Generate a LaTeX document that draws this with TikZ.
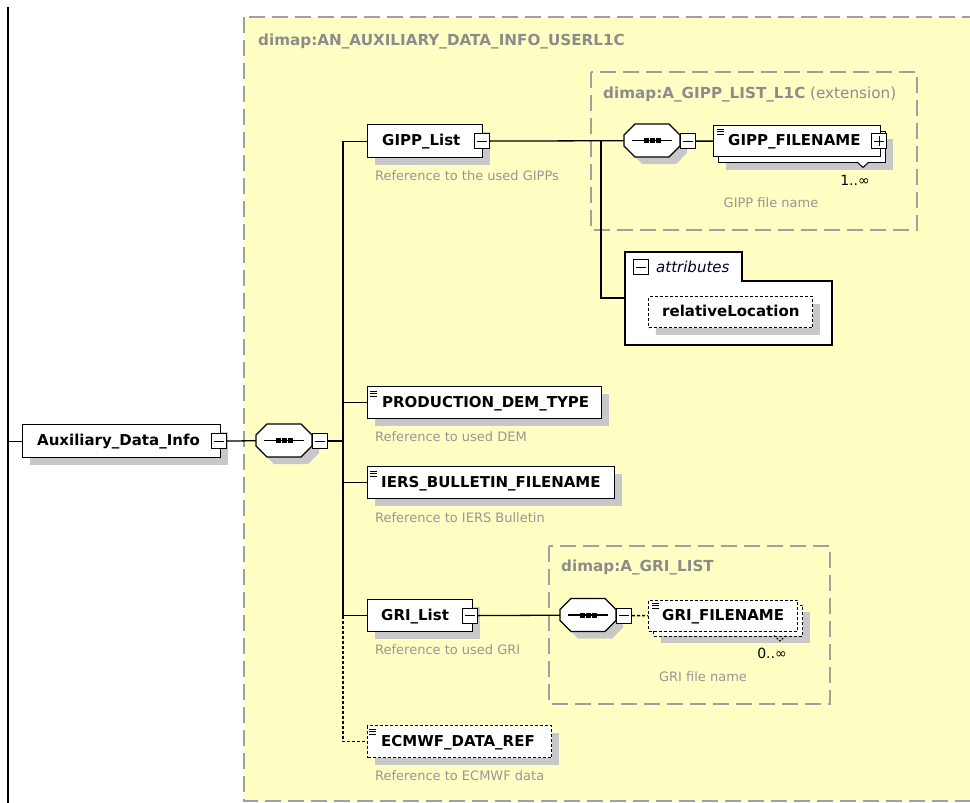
\documentclass[tikz,border=0pt]{standalone}
\usepackage{fontspec}
\setmainfont{DejaVu Sans}
\usetikzlibrary{shadows}
\definecolor{yel}{RGB}{255,255,196}
\definecolor{shd}{RGB}{200,200,200}
\definecolor{cgray}{RGB}{140,140,140}
\definecolor{dgray}{RGB}{150,150,150}
\definecolor{bgray}{RGB}{160,160,160}
\newcommand{\fsz}[1]{\fontsize{#1}{#1}\selectfont}
\newcommand{\tgl}[4]{%
  \node[tog] (#1) at (#2,#3) {};
  \draw[line width=1.2pt] ([xshift=3pt]#1.west) -- ([xshift=-3pt]#1.east);
  \ifnum#4=1 \draw[line width=1.2pt] ([yshift=3pt]#1.south) -- ([yshift=-3pt]#1.north);\fi
}
\newcommand{\seqc}[3]{%
  \begin{scope}[shift={(#2,#3)}]
    \fill[shd] (7,18) -- (18,7) -- (52,7) -- (63,18) -- (63,29) -- (52,40) -- (18,40) -- (7,29) -- cycle;
    \draw[line width=1.3pt, fill=white] (0,11) -- (11,0) -- (45,0) -- (56,11) -- (56,22) -- (45,33) -- (11,33) -- (0,22) -- cycle;
    \draw[line width=1.3pt] (8,16.5) -- (48,16.5);
    \fill (19.5,14) rectangle +(5,5);
    \fill (25.5,14) rectangle +(5,5);
    \fill (31.5,14) rectangle +(5,5);
    \node[inner sep=0pt, minimum width=56pt, minimum height=33pt, anchor=north west] (#1) at (0,0) {};
  \end{scope}}
\newcommand{\dicon}[2]{\draw[line width=1pt] (#1,#2) -- +(7,0) (#1,{#2+2.5}) -- +(7,0) (#1,{#2+5}) -- +(7,0);}
\begin{document}
\begin{tikzpicture}[x=1pt,y=-1pt,
  cont/.style={draw=bgray, line width=1.5pt, dash pattern=on 16pt off 7pt, fill=yel},
  ctxt/.style={anchor=west, inner sep=0pt, font=\bfseries\fsz{15.2}, text=cgray},
  shad/.style={drop shadow={shadow xshift=7pt,shadow yshift=-7pt,fill=shd,opacity=1}},
  ebox/.style={draw, fill=white, line width=1.3pt, anchor=north west, inner sep=0pt, minimum height=32pt},
  dbox/.style={ebox, dash pattern=on 3pt off 2pt},
  etxt/.style={anchor=west, inner sep=0pt, font=\bfseries\fsz{15}, text height=11pt, text depth=2pt},
  dtxt/.style={anchor=west, inner sep=0pt, font=\fsz{13}, text=dgray},
  card/.style={anchor=east, inner sep=0pt, font=\fsz{14}},
  tog/.style={draw, fill=white, line width=1.2pt, minimum size=15pt, inner sep=0pt, anchor=north west},
  conn/.style={line width=1.3pt},
  dconn/.style={line width=1.3pt, dash pattern=on 3pt off 2pt}]
\useasboundingbox (0,0) rectangle (970,803);
\clip (0,0) rectangle (970,803);
\fill[white] (0,0) rectangle (970,803);
% containers
\draw[cont] (244,17) rectangle (1000,801);
\node[ctxt] (lblA) at (258,42) {dimap:AN\_AUXILIARY\_DATA\_INFO\_USERL1C};
\draw[cont] (591,72) rectangle (917,230);
\node[ctxt] (lblB) at (603,95) {dimap:A\_GIPP\_LIST\_L1C\textmd{ (extension)}};
\draw[cont] (549,546) rectangle (830,704);
\node[ctxt] (lblC) at (561,568) {dimap:A\_GRI\_LIST};
\draw[line width=1.3pt] (8,7) -- (8,803);
\coordinate (lft) at (8,0);
\coordinate (bb) at (343,0);
\coordinate (brx) at (601,0);
% root element
\node[ebox, shad, minimum width=198pt, minimum height=33pt] (aux) at (22,424) {};
\node[etxt] (auxt) at ([xshift=15pt]aux.west) {Auxiliary\_Data\_Info};
\tgl{auxT}{211}{433}{0}
\seqc{s1}{256}{424}
\tgl{s1T}{312}{433}{0}
% GIPP_List
\node[ebox, shad, minimum width=115pt, minimum height=33pt] (gipp) at (367,124) {};
\node[etxt] (gippt) at ([xshift=15pt]gipp.west) {GIPP\_List};
\tgl{gippT}{474}{133}{0}
\node[dtxt] (gippd) at (375,176) {Reference to the used GIPPs};
\seqc{s2}{624}{124}
\tgl{s2T}{680}{133}{0}
\node[ebox, shad, minimum width=167pt, minimum height=31pt] (gfb) at (718,131) {};
\node[ebox, minimum width=167pt, minimum height=31pt] (gf) at (713,125) {};
\dicon{717}{129}
\node[etxt] (gft) at ([xshift=15pt]gf.west) {GIPP\_FILENAME};
\tgl{gfT}{871}{133}{1}
\draw[line width=1pt, fill=white] (857,162) -- (863,167.5) -- (869,162);
\node[card] (gfc) at (870,180) {1..∞};
\node[dtxt, anchor=center] (gfd) at (771,203) {GIPP file name};
% attributes
\draw[line width=1.3pt, fill=white] (625,252) -- (742,252) -- (742,281) -- (832,281) -- (832,345) -- (625,345) -- cycle;
\tgl{atT}{633}{259}{0}
\node[anchor=west, inner sep=0pt, font=\itshape\fsz{15}, text=black!85!blue] (att) at (656,267) {attributes};
\coordinate (attrW) at (625,298);
\node[dbox, shad, minimum width=164pt, minimum height=31pt] (rl) at (648,296) {};
\node[etxt] (rlt) at ([xshift=14pt]rl.west) {relativeLocation};
% PRODUCTION_DEM_TYPE
\node[ebox, shad, minimum width=234pt] (prod) at (367,386) {};
\dicon{370}{391}
\node[etxt] (prodt) at ([xshift=15pt]prod.west) {PRODUCTION\_DEM\_TYPE};
\node[dtxt] (prodd) at (375,437) {Reference to used DEM};
% IERS
\node[ebox, shad, minimum width=247pt] (iers) at (367,466) {};
\dicon{370}{471}
\node[etxt] (ierst) at ([xshift=14pt]iers.west) {IERS\_BULLETIN\_FILENAME};
\node[dtxt] (iersd) at (375,518) {Reference to IERS Bulletin};
% GRI_List
\node[ebox, shad, minimum width=105pt] (gri) at (367,599) {};
\node[etxt] (grit) at ([xshift=14pt]gri.west) {GRI\_List};
\tgl{griT}{462}{607.5}{0}
\node[dtxt] (grid) at (375,650) {Reference to used GRI};
\seqc{s3}{560}{598.5}
\tgl{s3T}{616}{607.5}{0}
\node[dbox, shad, minimum width=149pt, minimum height=31pt] (grb) at (653,604.5) {};
\node[dbox, minimum width=149pt, minimum height=31pt] (gr) at (648,599.5) {};
\dicon{652}{603}
\node[etxt] (grt) at ([xshift=14pt]gr.west) {GRI\_FILENAME};
\draw[line width=1pt, dash pattern=on 2pt off 1.5pt] (774,635.5) -- (780,641) -- (786,635.5);
\node[card] (grc) at (787,653) {0..∞};
\node[dtxt, anchor=center] (grd) at (703,677) {GRI file name};
% ECMWF
\node[dbox, shad, minimum width=184pt] (ecm) at (367,725) {};
\dicon{369}{729}
\node[etxt] (ecmt) at ([xshift=14pt]ecm.west) {ECMWF\_DATA\_REF};
\node[dtxt] (ecmd) at (375,776) {Reference to ECMWF data};
% connectors
\draw[conn] (aux.west -| lft) -- (aux.west);
\draw[conn] (auxT.east) -- (s1.west);
\draw[conn] (s1T.east) -- (s1T.east -| bb);
\draw[conn] (gipp.west -| bb) -- (gri.west -| bb);
\draw[dconn] (gri.west -| bb) -- (ecm.west -| bb) -- (ecm.west);
\draw[conn] (gipp.west -| bb) -- (gipp.west);
\draw[conn] (prod.west -| bb) -- (prod.west);
\draw[conn] (iers.west -| bb) -- (iers.west);
\draw[conn] (gri.west -| bb) -- (gri.west);
\draw[conn] (gippT.east) -- (s2.west);
\draw[conn] (gippT.east -| brx) -- (attrW -| brx) -- (attrW);
\draw[conn] (s2T.east) -- (gf.west);
\draw[conn] (griT.east) -- (s3.west);
\draw[dconn] (s3T.east) -- (gr.west);
\end{tikzpicture}
\end{document}
